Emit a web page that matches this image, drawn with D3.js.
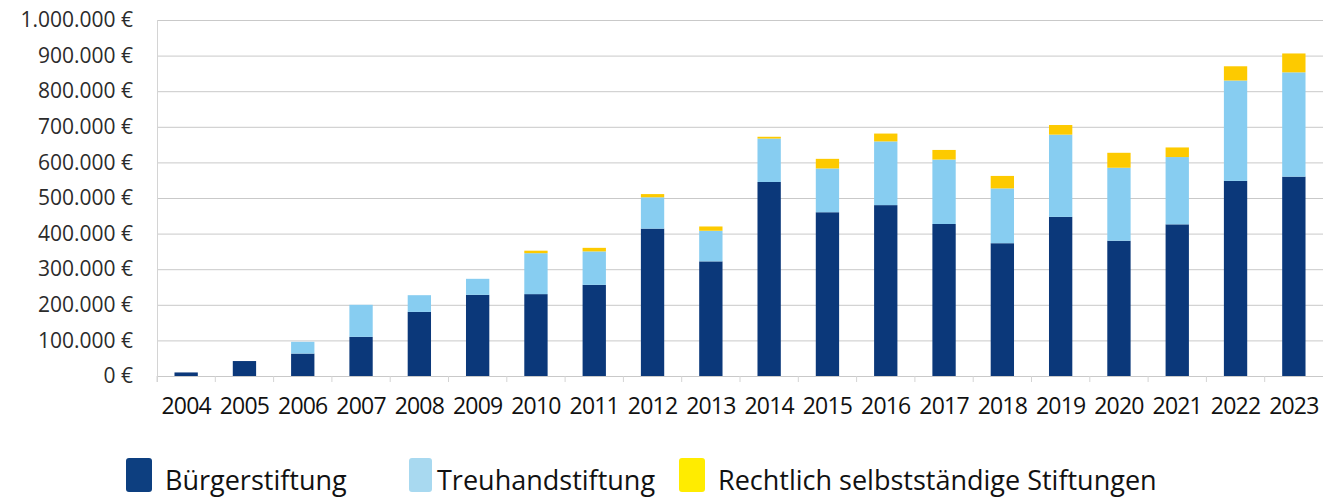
<!DOCTYPE html>
<html>
<head>
<meta charset="utf-8">
<script src="https://cdn.jsdelivr.net/npm/d3@7"></script>
<style>
  body { margin: 0; background: #fff; }
  svg { display: block; }
</style>
</head>
<body>
<div id="chart"></div>
<script>
// data (values in €)
var years = ['2004', '2005', '2006', '2007', '2008', '2009', '2010', '2011', '2012', '2013',
  '2014', '2015', '2016', '2017', '2018', '2019', '2020', '2021', '2022', '2023'];
var buerger = [10000, 42000, 63000, 110000, 180000, 228000, 230000, 256000, 414000, 322000,
  545000, 460000, 480000, 427000, 373000, 447000, 380000, 426000, 548000, 560000];
var treuhand = [0, 0, 33000, 90000, 47000, 45000, 115000, 94000, 88000, 86000,
  122000, 123000, 179000, 181000, 154000, 231000, 205000, 189000, 282000, 293000];
var rechtlich = [0, 0, 0, 0, 0, 0, 7000, 10000, 9000, 12000,
  5000, 27000, 22000, 27000, 35000, 27000, 42000, 27000, 40000, 53000];
var seriesNames = ['Bürgerstiftung', 'Treuhandstiftung', 'Rechtlich selbstständige Stiftungen'];
var keys = ['b', 't', 'r'];
var yTicks = [0, 100000, 200000, 300000, 400000, 500000, 600000, 700000, 800000, 900000, 1000000];

var W = 1336, H = 498;
var margin = { top: 20, right: 13, bottom: 122, left: 157 };
var width = W - margin.left - margin.right;
var height = H - margin.top - margin.bottom;

var barColor = ['#0b387a', '#87cdf1', '#fdca00'];
var legendColor = ['#0d3f80', '#a8d9f0', '#ffec00'];

var rows = years.map(function(y, i) {
  return { year: y, b: buerger[i], t: treuhand[i], r: rechtlich[i] };
});
var stacked = d3.stack().keys(keys)(rows);

var svg = d3.select('#chart').append('svg')
  .attr('width', W)
  .attr('height', H);

var g = svg.append('g')
  .attr('transform', 'translate(' + margin.left + ',' + margin.top + ')');

var x = d3.scaleBand()
  .domain(years)
  .range([0, width])
  .paddingInner(0.6)
  .paddingOuter(0.3);

var y = d3.scaleLinear()
  .domain([0, 1000000])
  .range([height, 0]);

var fmt = function(v) {
  return d3.format(',')(v).replace(/,/g, '.') + ' €';
};

// gridlines
g.append('g')
  .selectAll('line')
  .data(yTicks)
  .enter().append('line')
  .attr('x1', 0)
  .attr('x2', width)
  .attr('y1', function(d) { return y(d) + 0.5; })
  .attr('y2', function(d) { return y(d) + 0.5; })
  .attr('stroke', '#c9c9c9')
  .attr('stroke-width', 1);

// left border
g.append('line')
  .attr('x1', 0.5).attr('x2', 0.5)
  .attr('y1', 0).attr('y2', height + 6)
  .attr('stroke', '#d4d4d4');

// small ticks between categories
g.append('g')
  .selectAll('line')
  .data(years)
  .enter().append('line')
  .attr('x1', function(d) { return x(d) - x.step() * x.paddingInner() / 2; })
  .attr('x2', function(d) { return x(d) - x.step() * x.paddingInner() / 2; })
  .attr('y1', height)
  .attr('y2', height + 6)
  .attr('stroke', '#d4d4d4');

// y axis
var yAxis = d3.axisLeft(y).tickValues(yTicks).tickFormat(fmt).tickSize(0).tickPadding(24);
g.append('g')
  .call(yAxis)
  .call(function(s) { s.select('.domain').remove(); })
  .selectAll('text')
  .attr('font-family', 'Open Sans, sans-serif')
  .attr('font-size', 21)
  .attr('fill', '#2b2b2b');

// x axis
var xAxis = d3.axisBottom(x).tickSize(0).tickPadding(22);
g.append('g')
  .attr('transform', 'translate(0,' + height + ')')
  .call(xAxis)
  .call(function(s) { s.select('.domain').remove(); })
  .selectAll('text')
  .attr('font-family', 'Open Sans, sans-serif')
  .attr('font-size', 23)
  .attr('letter-spacing', -0.8)
  .attr('fill', '#111');

// bars
g.append('g')
  .selectAll('g')
  .data(stacked)
  .enter().append('g')
  .attr('fill', function(d, i) { return barColor[i]; })
  .selectAll('rect')
  .data(function(d) { return d; })
  .enter().append('rect')
  .attr('x', function(d) { return x(d.data.year); })
  .attr('y', function(d) { return y(d[1]); })
  .attr('width', x.bandwidth())
  .attr('height', function(d) { return y(d[0]) - y(d[1]); });

// legend
var legendX = [126, 409, 679];
var textOffset = [39, 28, 39];
var legend = svg.append('g')
  .selectAll('g')
  .data(seriesNames)
  .enter().append('g')
  .attr('transform', function(d, i) { return 'translate(' + legendX[i] + ',458)'; });

legend.append('rect')
  .attr('width', function(d, i) { return i === 1 ? 23 : 26; })
  .attr('height', 34)
  .attr('rx', 3)
  .attr('fill', function(d, i) { return legendColor[i]; });

legend.append('text')
  .attr('x', function(d, i) { return textOffset[i]; })
  .attr('y', 32)
  .attr('font-family', 'Open Sans, sans-serif')
  .attr('font-size', 27)
  .attr('fill', '#111')
  .text(function(d) { return d; });
</script>
</body>
</html>
